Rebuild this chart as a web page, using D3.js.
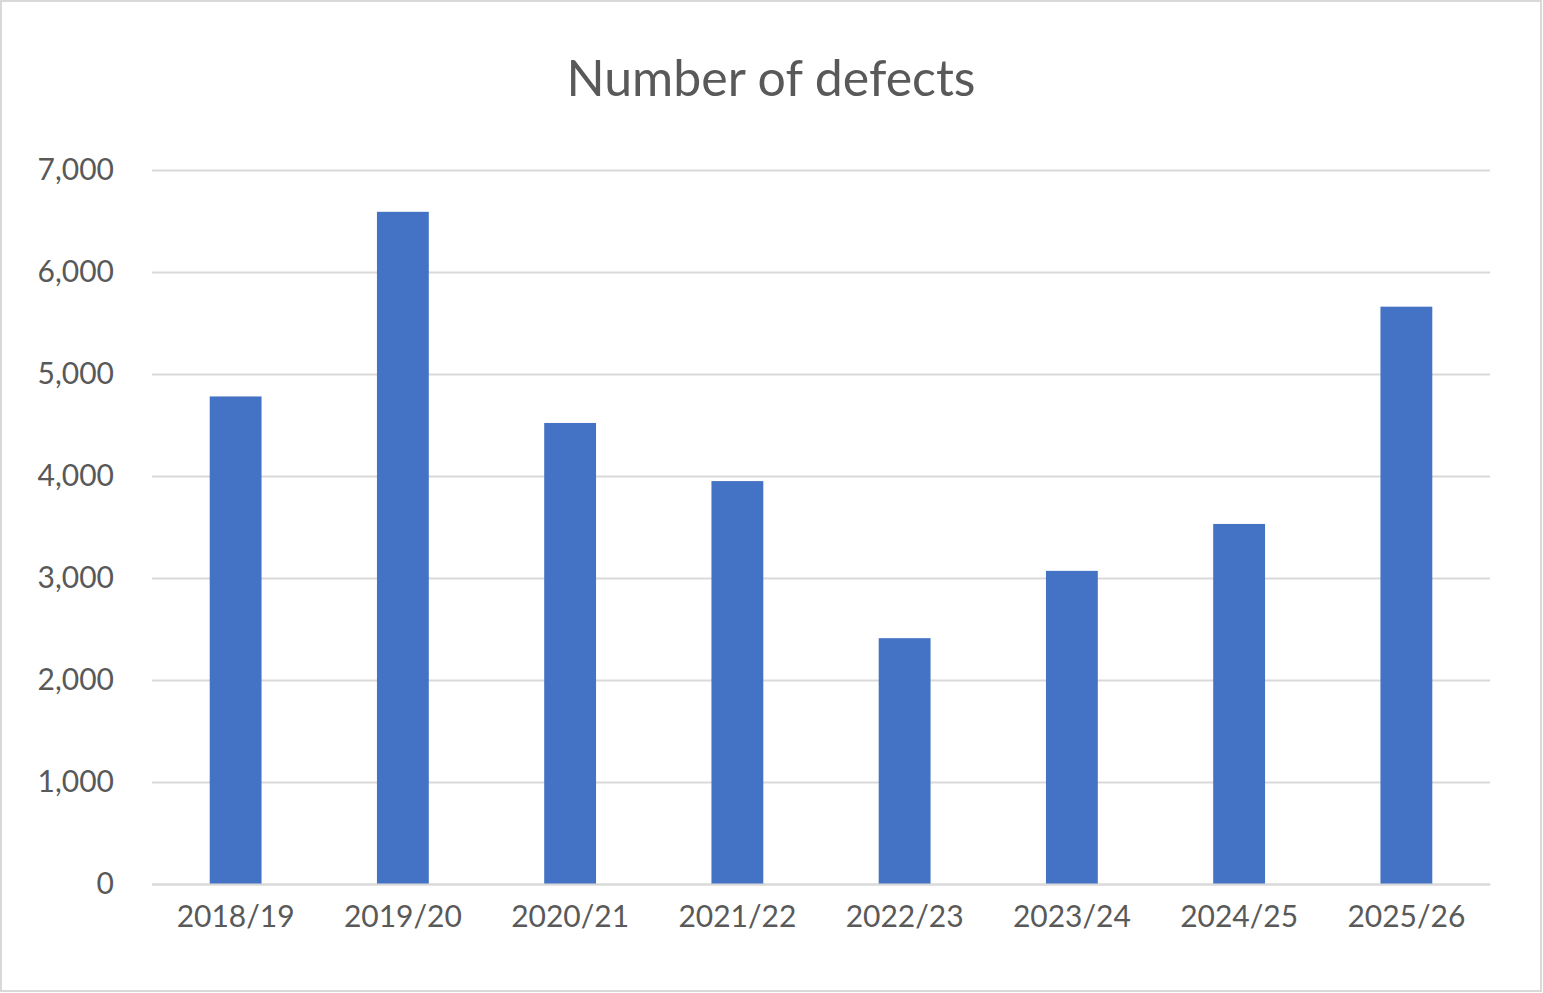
<!DOCTYPE html>
<html><head><meta charset="utf-8">
<script src="https://cdn.jsdelivr.net/npm/d3@7"></script>
<style>body{margin:0;background:#fff}svg{display:block}</style>
</head><body>
<script>
const categories = ["2018/19","2019/20","2020/21","2021/22","2022/23","2023/24","2024/25","2025/26"];
const defects = [4780, 6590, 4520, 3950, 2410, 3070, 3530, 5660];
const yTicks = [0,1000,2000,3000,4000,5000,6000,7000];

const W = 1543, H = 993;
const svg = d3.select("body").append("svg").attr("width", W).attr("height", H);
svg.append("rect").attr("x",1).attr("y",1).attr("width",W-3).attr("height",H-3)
  .attr("fill","#fff").attr("stroke","#d9d9d9").attr("stroke-width",2);

const x = d3.scaleBand().domain(categories).range([152,1490]).paddingInner(0.69).paddingOuter(0.345);
const y = d3.scaleLinear().domain([0,7000]).range([884,170]);
const font = "Lato, 'Open Sans', sans-serif";

svg.append("text").attr("x",771).attr("y",96).attr("text-anchor","middle")
  .attr("font-family",font).attr("font-size",50).attr("fill","#595959").text("Number of defects");

const ga = svg.append("g").attr("transform","translate(152,0)")
  .call(d3.axisLeft(y).tickValues(yTicks).tickSize(-1338).tickPadding(38));
ga.select(".domain").remove();
ga.selectAll(".tick line").attr("stroke","#d9d9d9").attr("stroke-width",2);
ga.selectAll(".tick text").attr("font-family",font).attr("font-size",30).attr("fill","#595959");

svg.selectAll("rect.bar").data(defects).join("rect").attr("class","bar")
  .attr("x",(d,i)=>x(categories[i])).attr("width",x.bandwidth())
  .attr("y",d=>y(d)).attr("height",d=>y(0)-y(d)).attr("fill","#4472c4");

const gx = svg.append("g").attr("transform","translate(0,884)")
  .call(d3.axisBottom(x).tickSize(0).tickPadding(22));
gx.select(".domain").attr("stroke","#d9d9d9").attr("stroke-width",2);
gx.selectAll(".tick text").attr("font-family",font).attr("font-size",30).attr("fill","#595959");
</script>
</body></html>
